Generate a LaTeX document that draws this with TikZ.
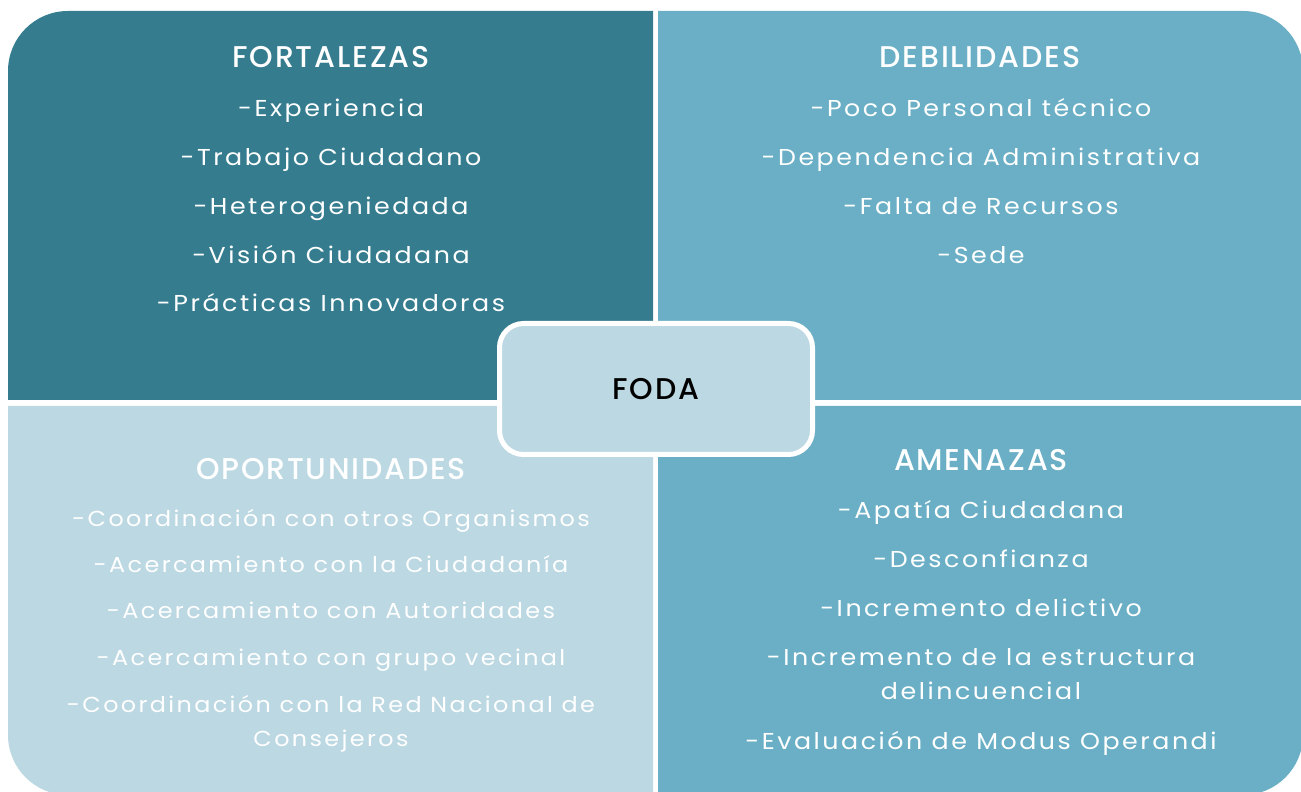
\documentclass[tikz,border=0pt]{standalone}
\usepackage{fontspec}
\setmainfont{Poppins}
\newfontfamily\headfont{Poppins Medium}[LetterSpace=6]
\newfontfamily\bodyfont{Poppins}[FakeStretch=1.1,LetterSpace=11]
\definecolor{cdark}{HTML}{357C8F}
\definecolor{cmid}{HTML}{6AAFC5}
\definecolor{clight}{HTML}{BCD8E2}
\tikzset{
  head/.style={anchor=base, text=white, inner sep=0pt, font=\headfont\fontsize{30}{32}\selectfont},
  body/.style={anchor=base, text=white, inner sep=0pt, font=\bodyfont\fontsize{23}{25}\selectfont},
  bodys/.style={anchor=base, text=white, inner sep=0pt, font=\bodyfont\fontsize{21.7}{24}\selectfont},
  centerbox/.style={draw=white, line width=5pt, fill=clight, rounded corners=24pt,
    minimum width=313pt, minimum height=131pt, inner sep=0pt,
    font=\headfont\fontsize{30}{32}\selectfont, text=black},
}
\begin{document}
\begin{tikzpicture}[x=1pt,y=1pt]
\useasboundingbox (0,0) rectangle (1301,792);
\clip (0,0) rectangle (1301,792);
% quadrants
\fill[cdark] (653,392) -- (8,392) -- (8,721) arc[start angle=180,end angle=90,radius=60] -- (653,781) -- cycle;
\fill[cmid] (658,392) -- (658,781) -- (1243,781) arc[start angle=90,end angle=0,radius=60] -- (1303,392) -- cycle;
\fill[clight] (653,386) -- (8,386) -- (8,57) arc[start angle=180,end angle=270,radius=60] -- (653,-3) -- cycle;
\fill[cmid] (658,386) -- (1303,386) -- (1303,57) arc[start angle=0,end angle=-90,radius=60] -- (658,-3) -- cycle;
% top-left
\node[head] (f0) at (331,792-68) {FORTALEZAS};
\node[body] (f1) at (331,792-117) {-Experiencia};
\node[body] (f2) at (331,792-166) {-Trabajo Ciudadano};
\node[body] (f3) at (331,792-215) {-Heterogeniedada};
\node[body] (f4) at (331,792-264) {-Visión Ciudadana};
\node[body] (f5) at (331,792-312) {-Prácticas Innovadoras};
% top-right
\node[head] (d0) at (980,792-68) {DEBILIDADES};
\node[body] (d1) at (981,792-117) {-Poco Personal técnico};
\node[body] (d2) at (981,792-166) {-Dependencia Administrativa};
\node[body] (d3) at (981,792-215) {-Falta de Recursos};
\node[body] (d4) at (981,792-264) {-Sede};
% bottom-left
\node[head] (o0) at (331,792-480) {OPORTUNIDADES};
\node[bodys] (o1) at (331,792-527) {-Coordinación con otros Organismos};
\node[bodys] (o2) at (331,792-573) {-Acercamiento con la Ciudadanía};
\node[bodys] (o3) at (331,792-619) {-Acercamiento con Autoridades};
\node[bodys] (o4) at (331,792-666) {-Acercamiento con grupo vecinal};
\node[bodys] (o5) at (331,792-713) {-Coordinación con la Red Nacional de};
\node[bodys] (o6) at (331,792-747) {Consejeros};
% bottom-right
\node[head] (a0) at (981,792-471) {AMENAZAS};
\node[body] (a1) at (981,792-519) {-Apatía Ciudadana};
\node[body] (a2) at (981,792-568) {-Desconfianza};
\node[body] (a3) at (981,792-617) {-Incremento delictivo};
\node[body] (a4) at (981,792-666) {-Incremento de la estructura};
\node[body] (a5) at (981,792-700) {delincuencial};
\node[body] (a6) at (981,792-750) {-Evaluación de Modus Operandi};
% center
\node[centerbox] (foda) at (656,792-389) {FODA};
\end{tikzpicture}
\end{document}
